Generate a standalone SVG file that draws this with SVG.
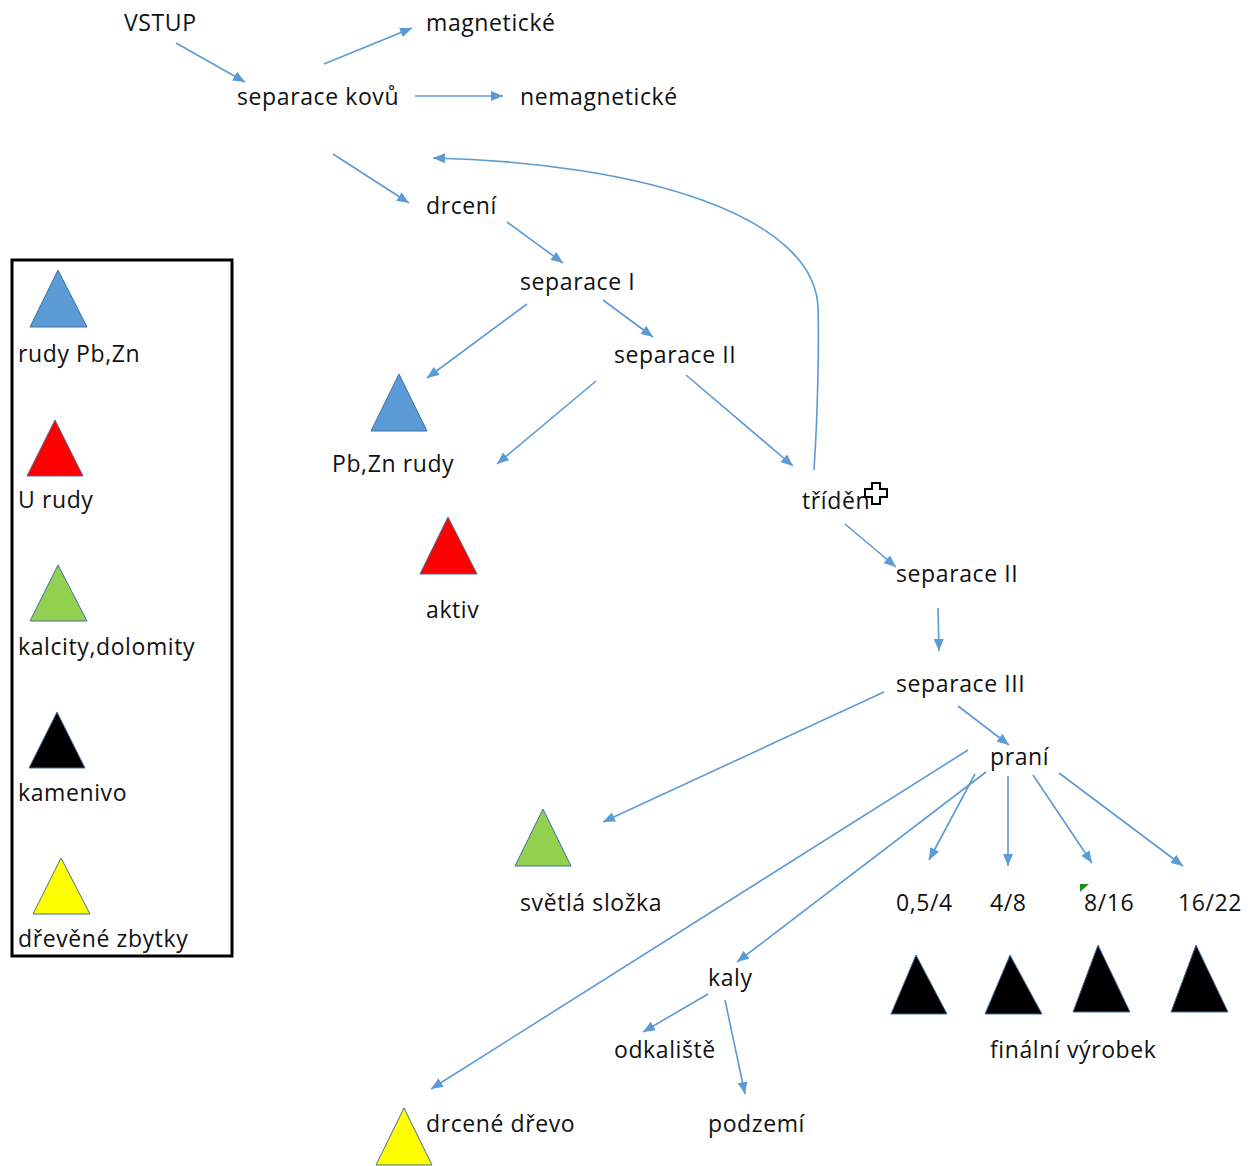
<svg xmlns="http://www.w3.org/2000/svg" width="1250" height="1166" viewBox="0 0 1250 1166">
<style>
text{font-family:"Open Sans","Noto Sans","DejaVu Sans",sans-serif;font-size:23px;letter-spacing:0.6px;fill:#111}
.c path,.c line{stroke:#5B9BD5;stroke-width:1.6;fill:none;marker-end:url(#ah)}
.b{fill:#5B9BD5;stroke:#41719C;stroke-width:1}
.r{fill:#FF0000;stroke:#41719C;stroke-width:1}
.g{fill:#92D050;stroke:#41719C;stroke-width:1}
.k{fill:#000;stroke:#41719C;stroke-width:1}
.y{fill:#FFFF00;stroke:#41719C;stroke-width:1}
</style>
<defs>
<marker id="ah" markerUnits="userSpaceOnUse" markerWidth="14" markerHeight="10" refX="12" refY="5" orient="auto">
<path d="M0,0 L12,5 L0,10 Z" fill="#5B9BD5"/>
</marker>
</defs>
<rect width="1250" height="1166" fill="#fff"/>
<g id="legend">
<rect x="12" y="260" width="220" height="696" fill="none" stroke="#000" stroke-width="3"/>
<polygon class="b" points="58,270 30,327 87,327"/>
<text x="18" y="362">rudy Pb,Zn</text>
<polygon class="r" points="55,420 27,476 83,476"/>
<text x="18" y="508">U rudy</text>
<polygon class="g" points="58,565 30,621 87,621"/>
<text x="18" y="655">kalcity,dolomity</text>
<polygon class="k" points="57,712 29,768 85,768"/>
<text x="18" y="801">kamenivo</text>
<polygon class="y" points="61,858 33,914 90,914"/>
<text x="18" y="947">dřevěné zbytky</text>
</g>
<g class="c" id="connectors">
<line x1="176" y1="43" x2="245" y2="82"/>
<line x1="324" y1="64" x2="412" y2="28"/>
<line x1="415" y1="96" x2="503" y2="96"/>
<line x1="333" y1="154" x2="409" y2="203"/>
<path d="M814,470 C818,410 819,340 818,308 C815,215 640,163 433,158"/>
<line x1="507" y1="222" x2="563" y2="263"/>
<line x1="527" y1="304" x2="427" y2="378"/>
<line x1="603" y1="300" x2="653" y2="337"/>
<line x1="596" y1="381" x2="497" y2="464"/>
<line x1="686" y1="375" x2="793" y2="466"/>
<line x1="845" y1="524" x2="896" y2="567"/>
<line x1="938" y1="608" x2="939" y2="651"/>
<line x1="958" y1="706" x2="1009" y2="745"/>
<line x1="884" y1="692" x2="603" y2="822"/>
<line x1="968" y1="750" x2="431" y2="1089"/>
<line x1="986" y1="772" x2="737" y2="962"/>
<line x1="975" y1="774" x2="929" y2="860"/>
<line x1="1008" y1="776" x2="1008" y2="866"/>
<line x1="1033" y1="775" x2="1092" y2="863"/>
<line x1="1059" y1="773" x2="1183" y2="866"/>
<line x1="708" y1="994" x2="643" y2="1032"/>
<line x1="725" y1="1000" x2="745" y2="1094"/>
</g>
<g id="vstup"><text x="124" y="31">VSTUP</text></g>
<g id="magneticke"><text x="426" y="31">magnetické</text></g>
<g id="separace-kovu"><text x="237" y="105">separace kovů</text></g>
<g id="nemagneticke"><text x="520" y="105">nemagnetické</text></g>
<g id="drceni"><text x="426" y="214">drcení</text></g>
<g id="separace-1"><text x="520" y="290">separace I</text></g>
<g id="separace-2a"><text x="614" y="363">separace II</text></g>
<g id="pbzn"><polygon class="b" points="399,374 371,431 427,431"/><text x="332" y="472">Pb,Zn rudy</text></g>
<g id="aktiv"><polygon class="r" points="448,517 420,574 477,574"/><text x="426" y="618">aktiv</text></g>
<g id="trideni"><text x="802" y="509">tříděn</text>
<path d="M872,483 h8 v6 h7 v8 h-7 v7 h-8 v-7 h-7 v-8 h7 Z" fill="#fff" stroke="#000" stroke-width="2"/></g>
<g id="separace-2b"><text x="896" y="582">separace II</text></g>
<g id="separace-3"><text x="896" y="692">separace III</text></g>
<g id="prani"><text x="990" y="765">praní</text></g>
<g id="svetla"><polygon class="g" points="543,809 515,866 571,866"/><text x="520" y="911">světlá složka</text></g>
<g id="f1"><text x="896" y="911">0,5/4</text><polygon class="k" points="916,955 891,1014 947,1014"/></g>
<g id="f2"><text x="990" y="911">4/8</text><polygon class="k" points="1010,955 985,1014 1042,1014"/></g>
<g id="f3"><polygon points="1080,884 1089,884 1080,892" fill="#1E8C1E"/><text x="1084" y="911">8/16</text><polygon class="k" points="1098,945 1073,1012 1130,1012"/></g>
<g id="f4"><text x="1178" y="911">16/22</text><polygon class="k" points="1196,945 1171,1012 1228,1012"/></g>
<g id="finalni"><text x="990" y="1058">finální výrobek</text></g>
<g id="kaly"><text x="708" y="986">kaly</text></g>
<g id="odkaliste"><text x="614" y="1058">odkaliště</text></g>
<g id="podzemi"><text x="708" y="1132">podzemí</text></g>
<g id="drcene"><polygon class="y" points="404,1108 376,1165 432,1165"/><text x="426" y="1132">drcené dřevo</text></g>
</svg>
